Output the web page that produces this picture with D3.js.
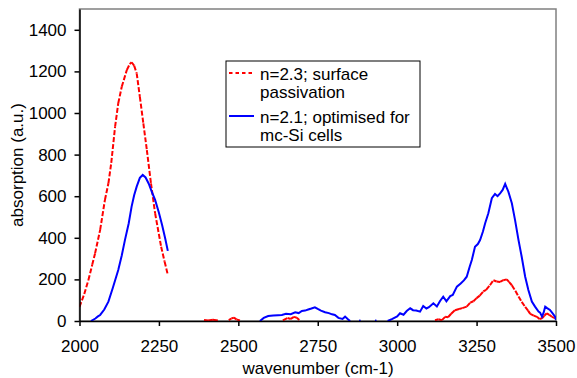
<!DOCTYPE html>
<html>
<head>
<meta charset="utf-8" />
<title></title>
<style>
html, body {
    margin: 0;
    padding: 0;
    background: #fff;
}
svg text {
    font-family: "Liberation Sans", Arial, sans-serif;
    font-size: 17px;
    fill: #000;
}
</style>
</head>
<body>
<svg id="chart" width="577" height="378"></svg>
<script src="https://cdnjs.cloudflare.com/ajax/libs/d3/7.8.5/d3.min.js"></script>
<script>
// n=2.3; surface passivation  (null = gap, value off the axis)
var redWavenumber = [2000, 2015, 2028, 2040, 2049, 2065, 2080, 2091, 2100, 2112, 2122, 2133, 2149, 2158, 2164, 2172, 2180, 2190, 2201, 2212, 2225, 2238, 2257, 2268, 2278, 2285,
    2392, 2405, 2420, 2440, 2450, 2470, 2478, 2486, 2494, 2505, 2515,
    2640, 2655, 2665, 2675, 2684, 2692, 2700,
    3119, 3130, 3141, 3151, 3160, 3170, 3182, 3195, 3205, 3219, 3230, 3240, 3250, 3260, 3271, 3280, 3292, 3303, 3313, 3324, 3334, 3345, 3352, 3361, 3372, 3382, 3392, 3403, 3412, 3419, 3430, 3440, 3448, 3456, 3463, 3471, 3479, 3487, 3495, 3500]
var redAbsorption = [68, 130, 197, 270, 325, 438, 582, 662, 760, 934, 1047, 1126, 1207, 1235, 1244, 1228, 1191, 1078, 950, 822, 662, 518, 357, 285, 222, null,
    5, 3, 6, 2, null, 4, 12, 16, 8, 3, null,
    3, 14, 10, 20, 16, 5, null,
    4, 8, 4, 20, 18, 35, 52, 58, 62, 69, 88, 95, 110, 122, 142, 150, 172, 196, 190, 188, 196, 200, 188, 172, 145, 118, 92, 68, 50, 34, 26, 20, 10, 13, 25, 37, 30, 20, 15, 12]

// n=2.1; optimised for mc-Si cells
var blueWavenumber = [2036, 2050, 2058, 2065, 2078, 2091, 2105, 2122, 2133, 2143, 2155, 2164, 2172, 2180, 2190, 2199, 2208, 2218, 2228, 2238, 2250, 2260, 2270, 2278, 2285,
    2568, 2580, 2594, 2610, 2625, 2637, 2650, 2665, 2679, 2690, 2700, 2710, 2720, 2730, 2741, 2750, 2760, 2773, 2785, 2795, 2804, 2815, 2828, 2836, 2845, 2852, 2860,
    2880, 2885, 2890, 2930, 2935, 2940,
    2970, 2985, 3000, 3009, 3020, 3030, 3041, 3050, 3060, 3072, 3082, 3092, 3100, 3114, 3125, 3135, 3145, 3155, 3167, 3175, 3188, 3200, 3210, 3219, 3228, 3235, 3245, 3254, 3261, 3270, 3277, 3287, 3298, 3308, 3316, 3324, 3332, 3340, 3345, 3350, 3361, 3371, 3382, 3392, 3403, 3413, 3424, 3434, 3445, 3450, 3456, 3461, 3466, 3472, 3481, 3490, 3497, 3500]
var blueAbsorption = [0, 12, 22, 29, 55, 93, 160, 245, 315, 389, 470, 550, 605, 646, 688, 702, 690, 660, 620, 582, 520, 462, 395, 337, null,
    0, 15, 24, 26, 28, 29, 35, 33, 42, 38, 48, 50, 55, 60, 66, 58, 50, 42, 38, 32, 29, 15, 10, 21, 8, 0, null,
    2, 1, null, 2, 1, null,
    0, 10, 22, 37, 30, 48, 61, 52, 50, 45, 72, 60, 66, 85, 70, 96, 117, 95, 120, 125, 165, 180, 195, 213, 260, 293, 357, 370, 389, 430, 470, 518, 590, 611, 600, 614, 630, 659, 640, 622, 566, 486, 389, 309, 213, 149, 93, 69, 45, 40, 21, 40, 69, 62, 53, 35, 21, 5]

var xTicks = [2000, 2250, 2500, 2750, 3000, 3250, 3500]
var yTicks = [0, 200, 400, 600, 800, 1000, 1200, 1400]
var legendLabels = [["n=2.3; surface", "passivation"], ["n=2.1; optimised for", "mc-Si cells"]]

var svg = d3.select("#chart")
var plotLeft = 79.5, plotRight = 556, plotTop = 9, plotBottom = 321

var x = d3.scaleLinear().domain([2000, 3500]).range([plotLeft, plotRight])
var y = d3.scaleLinear().domain([0, 1500]).range([plotBottom, plotTop])

// plot area border (grey), axes drawn over it
svg.append("rect")
    .attr("x", plotLeft).attr("y", plotTop)
    .attr("width", plotRight - plotLeft).attr("height", plotBottom - plotTop)
    .attr("fill", "none")
    .attr("stroke", "#808080")
    .attr("stroke-width", 1.5)

svg.append("defs").append("clipPath").attr("id", "plot")
    .append("rect")
    .attr("x", plotLeft).attr("y", plotTop)
    .attr("width", plotRight - plotLeft).attr("height", plotBottom - plotTop)

function toPoints(xs, ys) {
    return xs.map(function(d, i) { return [d, ys[i]] })
}

var line = d3.line()
    .defined(function(d) { return d[1] != null })
    .x(function(d) { return x(d[0]) })
    .y(function(d) { return y(d[1]) })

var plot = svg.append("g").attr("clip-path", "url(#plot)")

// dashed series: one path per segment so the dash restarts at every point
// (short segments look solid, long steep ones show the dashes)
var redPairs = d3.pairs(toPoints(redWavenumber, redAbsorption))
    .filter(function(p) { return p[0][1] != null && p[1][1] != null })
plot.selectAll("path.red")
    .data(redPairs)
    .enter()
    .append("path")
    .attr("class", "red")
    .attr("d", line)
    .attr("fill", "none")
    .attr("stroke", "#ff0000")
    .attr("stroke-width", 2)
    .attr("stroke-dasharray", "5,2")

plot.append("path")
    .attr("d", line(toPoints(blueWavenumber, blueAbsorption)))
    .attr("fill", "none")
    .attr("stroke", "#0000ff")
    .attr("stroke-width", 2)

var xAxis = svg.append("g")
    .attr("transform", "translate(0," + plotBottom + ")")
    .call(d3.axisBottom(x).tickValues(xTicks).tickSize(5).tickSizeOuter(0).tickPadding(14).tickFormat(d3.format("d")))
var yAxis = svg.append("g")
    .attr("transform", "translate(" + plotLeft + ",0)")
    .call(d3.axisLeft(y).tickValues(yTicks).tickSize(5).tickSizeOuter(0).tickPadding(8).tickFormat(d3.format("d")))

svg.selectAll(".tick text").attr("font-size", null).attr("font-family", null)
svg.selectAll(".domain, .tick line").attr("stroke", "#000").attr("stroke-width", 1.5)

svg.append("text")
    .attr("x", 318)
    .attr("y", 374)
    .attr("text-anchor", "middle")
    .text("wavenumber (cm-1)")

svg.append("text")
    .attr("transform", "translate(23," + (plotTop + plotBottom) / 2 + ") rotate(-90)")
    .attr("text-anchor", "middle")
    .text("absorption (a.u.)")

// legend
var legend = svg.append("g")
legend.append("rect")
    .attr("x", 226).attr("y", 61)
    .attr("width", 194).attr("height", 86)
    .attr("fill", "#fff")
    .attr("stroke", "#000")
    .attr("stroke-width", 1)

legend.append("line")
    .attr("x1", 229).attr("x2", 254).attr("y1", 73).attr("y2", 73)
    .attr("stroke", "#ff0000").attr("stroke-width", 2).attr("stroke-dasharray", "3.5,3")
legend.append("line")
    .attr("x1", 229).attr("x2", 254).attr("y1", 116).attr("y2", 116)
    .attr("stroke", "#0000ff").attr("stroke-width", 2)

var baselines = [[80, 98], [123, 141]]
legendLabels.forEach(function(lines, i) {
    lines.forEach(function(t, j) {
        legend.append("text")
            .attr("x", 260)
            .attr("y", baselines[i][j])
            .text(t)
    })
})
</script>
</body>
</html>
